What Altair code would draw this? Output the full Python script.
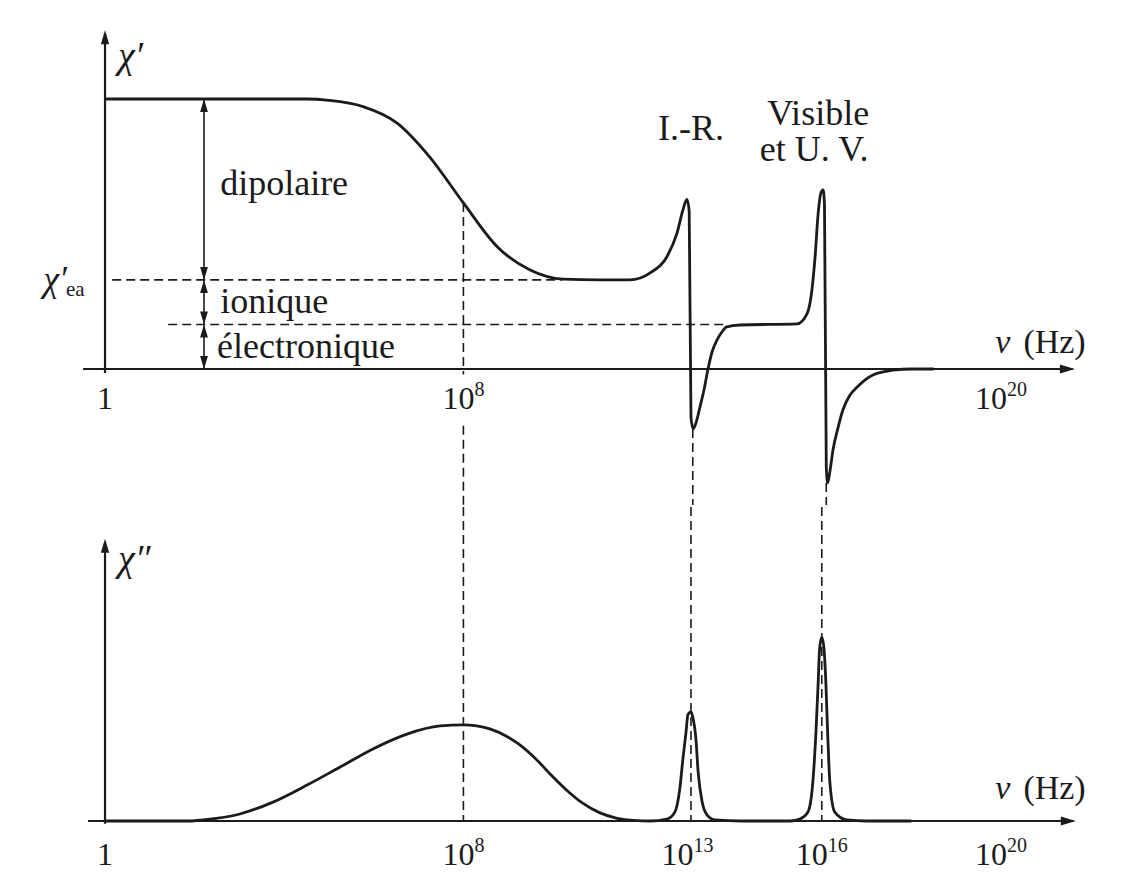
import altair as alt
import pandas as pd

# ---------------- data (x = log10(nu / Hz), y = susceptibility, arbitrary units) ----------------
# upper panel : chi'
top_lognu = [0.0, 4.5, 5.0, 5.76, 6.52, 7.25, 8.0, 8.76, 9.49, 10.22, 11.05, 11.72, 12.17, 12.54,
             12.77, 12.90, 12.99, 13.04, 13.08, 13.13, 13.20, 13.28, 13.37, 13.46, 13.55, 13.66,
             13.77, 13.88, 14.17, 15.45, 15.67, 15.78, 15.85, 15.92, 15.98, 16.03, 16.06, 16.10,
             16.13, 16.18, 16.25, 16.36, 16.47, 16.63, 16.79, 16.96, 17.14, 17.37, 17.59, 18.0, 18.5]
top_chi = [10.0, 10.0, 9.95, 9.72, 9.11, 7.85, 6.15, 4.52, 3.67, 3.33, 3.30, 3.30, 3.56, 4.15,
           5.04, 5.89, 6.28, 5.85, -1.8, -2.22, -1.95, -1.41, -0.78, 0.0, 0.63, 1.07,
           1.37, 1.56, 1.63, 1.67, 2.04, 2.93, 4.15, 5.78, 6.52, 6.63, 6.1, -3.6,
           -4.22, -3.81, -3.0, -2.19, -1.52, -0.96, -0.67, -0.41, -0.22, -0.11, -0.04, 0.0, 0.0]

# lower panel : chi''
bot_lognu = [0.0, 1.9, 2.19, 3.01, 3.75, 4.51, 5.25, 5.98, 6.74, 7.48, 8.0, 8.59, 9.2, 9.64,
             9.93, 10.3, 10.67, 11.05, 11.43, 11.8, 12.17, 12.54, 12.72, 12.83, 12.90, 12.97,
             13.01, 13.08, 13.12, 13.19, 13.24, 13.33, 13.44, 13.62, 14.2, 15.3, 15.51, 15.69,
             15.80, 15.87, 15.92, 15.95, 16.0, 16.05, 16.09, 16.13, 16.18, 16.29, 16.56, 17.0, 18.0]
bot_chi = [0.0, 0.0, 0.04, 0.26, 0.70, 1.33, 2.0, 2.67, 3.22, 3.52, 3.56, 3.41, 2.89, 2.26,
           1.75, 1.15, 0.65, 0.30, 0.10, 0.02, 0.0, 0.07, 0.33, 1.19, 2.30, 3.30,
           3.93, 4.04, 3.85, 3.04, 1.81, 0.70, 0.22, 0.04, 0.0, 0.0, 0.07, 0.33,
           1.44, 3.30, 5.15, 6.37, 6.81, 6.37, 5.15, 3.30, 1.44, 0.33, 0.04, 0.0, 0.0]

# reference levels of chi'
chi_static = 10.0      # low-frequency plateau
chi_ea = 3.3           # after dipolar relaxation
chi_e = 1.65           # after ionic resonance
contrib_names = ["dipolaire", "ionique", "électronique"]

# characteristic frequencies (log10)
f_dip, f_ir, f_uv = 8.0, 13.08, 16.05
region_labels = ["I.-R.", "Visible", "et U. V."]

# tick labels (base and exponent)
top_tick_pos = [8, 20]
top_tick_exp = ["8", "20"]
bot_tick_pos = [8, 13, 16, 20]
bot_tick_exp = ["8", "13", "16", "20"]

# ---------------- scales / styling ----------------
INK = "#1b1b1b"
FONT = "Liberation Serif"
XDOM = [-2.054, 22.545]
TOP_YDOM = [-5.037, 13.185]
BOT_YDOM = [-1.963, 11.63]
W, H_TOP, H_BOT = 1102, 492, 367
PX = (XDOM[1] - XDOM[0]) / W          # data units per pixel along x

xs = alt.Scale(domain=XDOM, nice=False, zero=False)
ys_top = alt.Scale(domain=TOP_YDOM, nice=False, zero=False)
ys_bot = alt.Scale(domain=BOT_YDOM, nice=False, zero=False)

ARROW_UP = "M0,0L-0.3,1L0.3,1Z"
ARROW_DOWN = "M0,0L-0.3,-1L0.3,-1Z"
ARROW_RIGHT = "M0,0L-1,-0.3L-1,0.3Z"


def enc_xy(ys, xf="x", yf="y"):
    return dict(x=alt.X(f"{xf}:Q", scale=xs, axis=None), y=alt.Y(f"{yf}:Q", scale=ys, axis=None))


def curve(xv, yv, ys):
    df = pd.DataFrame({"x": xv, "y": yv})
    return alt.Chart(df).mark_line(color=INK, strokeWidth=2.8, interpolate="monotone").encode(**enc_xy(ys))


def hrules(rows, ys, dash=None, width=2.0):
    df = pd.DataFrame(rows, columns=["x", "x2", "y"])
    kw = dict(color=INK, strokeWidth=width)
    if dash:
        kw["strokeDash"] = dash
    return alt.Chart(df).mark_rule(**kw).encode(
        x=alt.X("x:Q", scale=xs, axis=None), x2="x2:Q", y=alt.Y("y:Q", scale=ys, axis=None))


def vrules(rows, ys, dash=None, width=2.0):
    df = pd.DataFrame(rows, columns=["x", "y", "y2"])
    kw = dict(color=INK, strokeWidth=width)
    if dash:
        kw["strokeDash"] = dash
    return alt.Chart(df).mark_rule(**kw).encode(
        x=alt.X("x:Q", scale=xs, axis=None), y=alt.Y("y:Q", scale=ys, axis=None), y2="y2:Q")


def heads(rows, ys, shape, size):
    df = pd.DataFrame(rows, columns=["x", "y"])
    return alt.Chart(df).mark_point(shape=shape, filled=True, size=size, color=INK,
                                    opacity=1, strokeWidth=0).encode(**enc_xy(ys))


def texts(rows, ys, size, align="center", baseline="alphabetic", style="normal"):
    df = pd.DataFrame(rows, columns=["x", "y", "t"])
    return alt.Chart(df).mark_text(font=FONT, fontSize=size, align=align, baseline=baseline,
                                   fontStyle=style, color=INK).encode(**enc_xy(ys), text="t:N")


def power_labels(pos, exps, y, ys, dy_exp):
    # "10" followed by a raised exponent, the pair centred on the tick position
    rows_base, rows_exp = [], []
    for p, e in zip(pos, exps):
        shift = (11 if len(e) == 1 else 6) * PX
        rows_base.append((p + shift, y, "10"))
        rows_exp.append((p + shift, y + dy_exp, e))
    return [texts(rows_base, ys, 32, align="right"),
            texts(rows_exp, ys, 20, align="left")]


DASH = [9, 5]

# ---------------- upper panel ----------------
dim_x = 2.21
top_layers = [
    # axes
    hrules([(-0.49, 21.6, 0.0)], ys_top, width=2.2),
    vrules([(0.0, -0.15, 12.4)], ys_top, width=2.2),
    heads([(21.65, 0.0)], ys_top, ARROW_RIGHT, 900),
    heads([(0.0, 12.55)], ys_top, ARROW_UP, 784),
    # dashed guides
    hrules([(0.16, 10.2, chi_ea), (1.41, 13.9, chi_e)], ys_top, dash=DASH, width=1.6),
    vrules([(f_dip, 6.15, -0.2), (f_dip, -2.1, TOP_YDOM[0]),
            (13.12, -2.22, TOP_YDOM[0]), (f_uv + 0.05, -4.22, TOP_YDOM[0])],
           ys_top, dash=DASH, width=1.6),
    # contribution dimension arrows
    vrules([(dim_x, 0.0, chi_static)], ys_top, width=1.6),
    heads([(dim_x, chi_static), (dim_x, chi_ea), (dim_x, chi_e)], ys_top, ARROW_UP, 676),
    heads([(dim_x, chi_ea), (dim_x, chi_e), (dim_x, 0.0)], ys_top, ARROW_DOWN, 676),
    # curve
    curve(top_lognu, top_chi, ys_top),
    # labels
    texts([(2.57, 6.44, contrib_names[0]), (2.57, 2.07, contrib_names[1]),
           (2.5, 0.41, contrib_names[2])], ys_top, 36, align="left"),
    texts([(13.08, 8.48, region_labels[0]), (15.92, 9.04, region_labels[1]),
           (15.83, 7.7, region_labels[2])], ys_top, 36),
    texts([(0.0, -1.5, "1")], ys_top, 32),
    *power_labels(top_tick_pos, top_tick_exp, -1.5, ys_top, 0.5),
    texts([(19.87, 0.59, "ν")], ys_top, 34, align="left", style="italic"),
    texts([(20.5, 0.59, "(Hz)")], ys_top, 34, align="left"),
    texts([(0.29, 11.56, "χ′")], ys_top, 38, align="left", baseline="middle", style="italic"),
    texts([(-0.85, 3.3, "χ′")], ys_top, 36, align="right", baseline="middle", style="italic"),
    texts([(-0.87, 2.72, "ea")], ys_top, 21, align="left"),
]
top = alt.layer(*top_layers).properties(width=W, height=H_TOP)

# ---------------- lower panel ----------------
bot_layers = [
    hrules([(-0.38, 21.62, 0.0)], ys_bot, width=2.2),
    vrules([(0.0, -0.1, 10.3)], ys_bot, width=2.2),
    heads([(21.67, 0.0)], ys_bot, ARROW_RIGHT, 900),
    heads([(0.0, 10.45)], ys_bot, ARROW_UP, 784),
    vrules([(f_dip, BOT_YDOM[1], 0.0), (f_ir, BOT_YDOM[1], 0.0), (16.0, BOT_YDOM[1], 0.0)],
           ys_bot, dash=DASH, width=1.6),
    curve(bot_lognu, bot_chi, ys_bot),
    texts([(0.0, -1.63, "1")], ys_bot, 32),
    *power_labels(bot_tick_pos, bot_tick_exp, -1.63, ys_bot, 0.5),
    texts([(19.87, 0.81, "ν")], ys_bot, 34, align="left", style="italic"),
    texts([(20.5, 0.81, "(Hz)")], ys_bot, 34, align="left"),
    texts([(0.29, 9.67, "χ″")], ys_bot, 38, align="left", baseline="middle", style="italic"),
]
bottom = alt.layer(*bot_layers).properties(width=W, height=H_BOT)

chart = alt.vconcat(top, bottom, spacing=0).configure_view(stroke=None).properties(background="white")

chart.save("out.html", embed_options={"renderer": "svg", "actions": False})
